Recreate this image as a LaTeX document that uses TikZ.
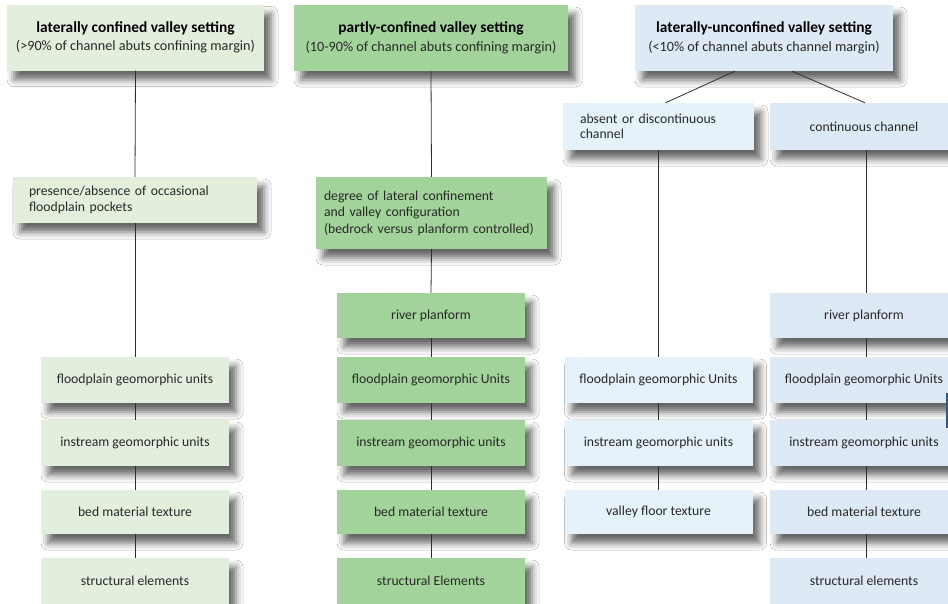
\documentclass[tikz,border=0pt]{standalone}
\usepackage{fontspec}
\setmainfont{Carlito}
\usetikzlibrary{shadows.blur,calc}
\definecolor{gA}{RGB}{227,239,221}
\definecolor{gB}{RGB}{162,211,154}
\definecolor{bC}{RGB}{221,233,245}
\definecolor{bD}{RGB}{229,242,249}
\definecolor{ln}{RGB}{45,45,45}
\definecolor{tx}{RGB}{40,40,40}
\definecolor{edgeblue}{RGB}{47,85,140}
\begin{document}
\begin{tikzpicture}[x=1pt,y=-1pt,
  box/.style={inner sep=0pt, minimum height=45pt, minimum width=188pt, align=center,
    font=\fontsize{13.7}{16}\selectfont, text=tx,
    blur shadow={shadow xshift=7pt, shadow yshift=-9pt, shadow blur radius=7pt, shadow opacity=60}},
  topbox/.style={box, minimum height=66pt, font=\fontsize{14.2}{17}\selectfont},
  ttl/.style={font=\bfseries\fontsize{15.4}{17}\selectfont, text=black},
  conn/.style={draw=ln, line width=0.8pt}]
\useasboundingbox[fill=white] (0,0) rectangle (948,603);

% column 1
\node[topbox, fill=gA, minimum width=257pt] (t1) at (135.5,37.5)
  {{\bfseries\fontsize{15.4}{17}\selectfont\color{black} laterally confined valley setting}\\[1.5pt](>90\% of channel abuts confining margin)};
\node[box, fill=gA, minimum width=244pt, minimum height=46pt, text width=212pt, align=left, font=\fontsize{13.7}{15.5}\selectfont] (p1) at (135,200)
  {presence/absence of occasional\\floodplain pockets};
\node[box, fill=gA, minimum height=46pt] (f1) at (135,380) {floodplain geomorphic units};
\node[box, fill=gA, minimum height=46pt] (i1) at (135,443) {instream geomorphic units};
\node[box, fill=gA, minimum height=44pt] (b1) at (135,512) {bed material texture};
\node[box, fill=gA, minimum height=46pt] (s1) at (135,581) {structural elements};

% column 2
\node[topbox, fill=gB, minimum width=274pt] (t2) at (431,38)
  {{\bfseries\fontsize{15.4}{17}\selectfont\color{black} partly-confined valley setting}\\[1.5pt](10-90\% of channel abuts confining margin)};
\node[box, fill=gB, minimum width=231pt, minimum height=72pt, text width=215pt, align=left, font=\fontsize{13.7}{16.5}\selectfont] (d2) at (431.5,213)
  {degree of lateral confinement\\and valley configuration\\(bedrock versus planform controlled)};
\node[box, fill=gB] (r2) at (431,315.5) {river planform};
\node[box, fill=gB, minimum height=46pt] (f2) at (431,380) {floodplain geomorphic Units};
\node[box, fill=gB, minimum height=46pt] (i2) at (431,443) {instream geomorphic units};
\node[box, fill=gB, minimum height=44pt] (b2) at (431,512) {bed material texture};
\node[box, fill=gB, minimum height=46pt] (s2) at (431,581) {structural Elements};

% column 3
\node[topbox, fill=bC, minimum width=258pt] (t3) at (764,38)
  {{\bfseries\fontsize{15.4}{17}\selectfont\color{black} laterally-unconfined valley setting}\\[1.5pt](<10\% of channel abuts channel margin)};
\node[box, fill=bD, minimum width=191pt, minimum height=47pt, text width=157pt, align=left, font=\fontsize{13.7}{15.5}\selectfont] (a3) at (658.5,126.5)
  {absent or discontinuous\\channel};
\node[box, fill=bC, minimum height=47pt] (c3) at (864,126.5) {continuous channel};

\node[box, fill=bD, minimum height=46pt] (f3) at (658.5,380) {floodplain geomorphic Units};
\node[box, fill=bD, minimum height=46pt] (i3) at (658.5,443) {instream geomorphic units};
\node[box, fill=bD, minimum height=44pt] (v3) at (658.5,512) {valley floor texture};

\node[box, fill=bC] (r4) at (864,315.5) {river planform};
\node[box, fill=bC, minimum height=46pt] (f4) at (864,380) {floodplain geomorphic Units};
\node[box, fill=bC, minimum height=46pt] (i4) at (864,443) {instream geomorphic units};
\node[box, fill=bC, minimum height=44pt] (b4) at (864,512) {bed material texture};
\node[box, fill=bC, minimum height=46pt] (s4) at (864,581) {structural elements};

% connectors
\draw[conn] (t1.south) -- (p1.north);
\draw[conn] (p1.south) -- (f1.north);
\draw[conn] (f1.south) -- (i1.north);
\draw[conn] (i1.south) -- (b1.north);
\draw[conn] (b1.south) -- (s1.north);

\draw[conn] (t2.south) -- (d2.north);
\draw[conn] (d2.south) -- (r2.north);
\draw[conn] (r2.south) -- (f2.north);
\draw[conn] (f2.south) -- (i2.north);
\draw[conn] (i2.south) -- (b2.north);
\draw[conn] (b2.south) -- (s2.north);

\draw[conn] ([xshift=-29pt]t3.south) -- ([xshift=7pt]a3.north);
\draw[conn] ([xshift=28pt]t3.south) -- ([xshift=1pt]c3.north);
\draw[conn] (a3.south) -- (f3.north);
\draw[conn] (f3.south) -- (i3.north);
\draw[conn] (i3.south) -- (v3.north);
\draw[conn] ([xshift=2pt]c3.south) -- ([xshift=2pt]r4.north);
\draw[conn] ([xshift=2pt]r4.south) -- ([xshift=2pt]f4.north);
\draw[conn] ([xshift=2pt]f4.south) -- ([xshift=2pt]i4.north);
\draw[conn] ([xshift=2pt]i4.south) -- ([xshift=2pt]b4.north);
\draw[conn] ([xshift=2pt]b4.south) -- ([xshift=2pt]s4.north);

% partial edge at right border
\coordinate (e1) at (947,393);
\coordinate (e2) at (947,428);
\draw[edgeblue, line width=1.2pt] (e1) -- (e2);
\end{tikzpicture}
\end{document}
